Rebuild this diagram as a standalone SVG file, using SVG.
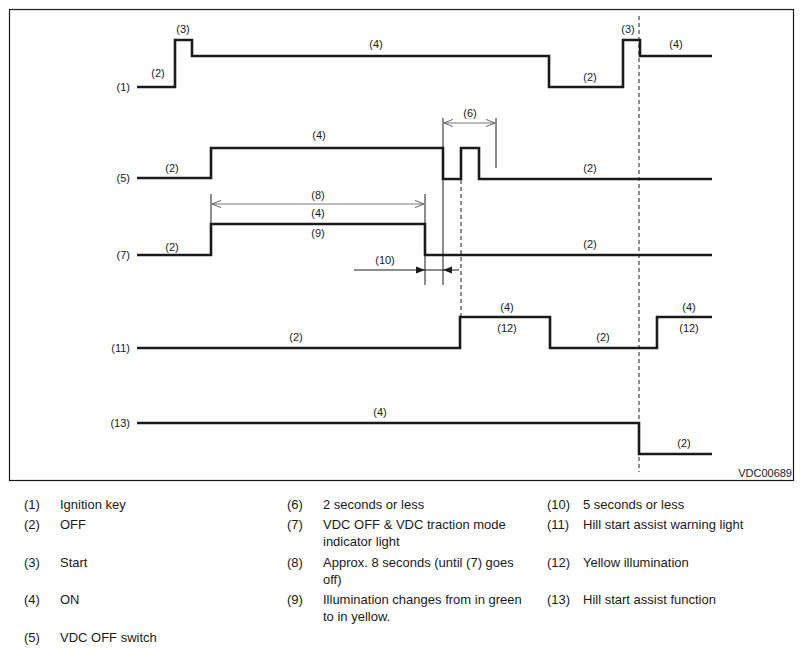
<svg xmlns="http://www.w3.org/2000/svg" width="804" height="654" viewBox="0 0 804 654">
<defs>
<style>
.w{fill:none;stroke:#1a1a1a;stroke-width:2.6;stroke-linejoin:miter}
.t{fill:none;stroke:#1a1a1a;stroke-width:1}
.d{fill:none;stroke:#1a1a1a;stroke-width:1;stroke-dasharray:4 3}
.g{fill:none;stroke:#777;stroke-width:1}
.lb{font-family:"Liberation Sans",Arial,sans-serif;font-size:11px;fill:#1a1a1a;text-anchor:middle}
.le{font-family:"Liberation Sans",Arial,sans-serif;font-size:11px;fill:#1a1a1a;text-anchor:end}
.lg{font-family:"Liberation Sans",Arial,sans-serif;font-size:13px;fill:#1a1a1a}
</style>
<marker id="open" viewBox="0 0 10 10" refX="10" refY="5" markerWidth="9" markerHeight="9" markerUnits="userSpaceOnUse" orient="auto-start-reverse">
<path d="M0,1 L10,5 L0,9" fill="none" stroke="#555" stroke-width="1"/>
</marker>
<marker id="fill" viewBox="0 0 10 10" refX="10" refY="5" markerWidth="9" markerHeight="9" markerUnits="userSpaceOnUse" orient="auto">
<path d="M0,1 L10,5 L0,9 Z" fill="#1a1a1a"/>
</marker>
</defs>
<rect x="9.5" y="9.5" width="784" height="471" fill="#fff" stroke="#1a1a1a" stroke-width="1.2"/>

<g id="connectors">
<line class="t" x1="443" y1="118" x2="443" y2="285"/>
<line class="t" x1="496" y1="118" x2="496" y2="168"/>
<line class="t" x1="211" y1="194" x2="211" y2="224"/>
<line class="t" x1="425" y1="194" x2="425" y2="285"/>
<line class="g" x1="444" y1="123" x2="495" y2="123" marker-start="url(#open)" marker-end="url(#open)"/>
<line class="g" x1="212" y1="204" x2="424" y2="204" marker-start="url(#open)" marker-end="url(#open)"/>
<line class="t" x1="354" y1="270" x2="425" y2="270" marker-end="url(#fill)"/>
<line class="t" x1="425" y1="270" x2="443" y2="270"/>
<line class="t" x1="459" y1="270" x2="443" y2="270" marker-end="url(#fill)"/>
<line class="d" x1="461" y1="180" x2="461" y2="317"/>
<line class="d" x1="639" y1="16" x2="639" y2="472"/>
</g>

<g id="sig1">
<polyline class="w" points="137,87 175,87 175,40 192,40 192,56 549,56 549,87 623,87 623,40 640,40 640,56 712,56"/>
<text class="le" x="130" y="91">(1)</text>
<text class="lb" x="158" y="77">(2)</text>
<text class="lb" x="183" y="33">(3)</text>
<text class="lb" x="376" y="48">(4)</text>
<text class="lb" x="590" y="81">(2)</text>
<text class="lb" x="628" y="33">(3)</text>
<text class="lb" x="676" y="48">(4)</text>
</g>

<g id="sig5">
<polyline class="w" points="137,178 211,178 211,148 443,148 443,179 461,179 461,148 479,148 479,179 712,179"/>
<text class="le" x="130" y="182">(5)</text>
<text class="lb" x="172" y="172">(2)</text>
<text class="lb" x="319" y="139">(4)</text>
<text class="lb" x="470" y="117">(6)</text>
<text class="lb" x="590" y="172">(2)</text>
</g>

<g id="sig7">
<polyline class="w" points="137,255 211,255 211,224 425,224 425,255 712,255"/>
<text class="le" x="130" y="259">(7)</text>
<text class="lb" x="172" y="251">(2)</text>
<text class="lb" x="318" y="199">(8)</text>
<text class="lb" x="318" y="217">(4)</text>
<text class="lb" x="318" y="237">(9)</text>
<text class="lb" x="385" y="264">(10)</text>
<text class="lb" x="590" y="248">(2)</text>
</g>

<g id="sig11">
<polyline class="w" points="137,348 460,348 460,317 550,317 550,348 657,348 657,317 712,317"/>
<text class="le" x="130" y="352">(11)</text>
<text class="lb" x="296" y="341">(2)</text>
<text class="lb" x="507" y="311">(4)</text>
<text class="lb" x="507" y="332">(12)</text>
<text class="lb" x="603" y="341">(2)</text>
<text class="lb" x="689" y="311">(4)</text>
<text class="lb" x="689" y="332">(12)</text>
</g>

<g id="sig13">
<polyline class="w" points="137,423 639,423 639,454 712,454"/>
<text class="le" x="130" y="427">(13)</text>
<text class="lb" x="380" y="416">(4)</text>
<text class="lb" x="684" y="447">(2)</text>
</g>

<text class="le" x="792" y="477">VDC00689</text>

<g id="legend" class="lg">
<text x="24" y="509">(1)</text><text x="60" y="509">Ignition key</text>
<text x="24" y="529">(2)</text><text x="60" y="529">OFF</text>
<text x="24" y="567">(3)</text><text x="60" y="567">Start</text>
<text x="24" y="604">(4)</text><text x="60" y="604">ON</text>
<text x="24" y="642">(5)</text><text x="60" y="642">VDC OFF switch</text>
<text x="287" y="509">(6)</text><text x="323" y="509">2 seconds or less</text>
<text x="287" y="529">(7)</text><text x="323" y="529">VDC OFF &amp; VDC traction mode</text>
<text x="323" y="546">indicator light</text>
<text x="287" y="567">(8)</text><text x="323" y="567">Approx. 8 seconds (until (7) goes</text>
<text x="323" y="584">off)</text>
<text x="287" y="604">(9)</text><text x="323" y="604">Illumination changes from in green</text>
<text x="323" y="621">to in yellow.</text>
<text x="547" y="509">(10)</text><text x="583" y="509">5 seconds or less</text>
<text x="547" y="529">(11)</text><text x="583" y="529">Hill start assist warning light</text>
<text x="547" y="567">(12)</text><text x="583" y="567">Yellow illumination</text>
<text x="547" y="604">(13)</text><text x="583" y="604">Hill start assist function</text>
</g>
</svg>
